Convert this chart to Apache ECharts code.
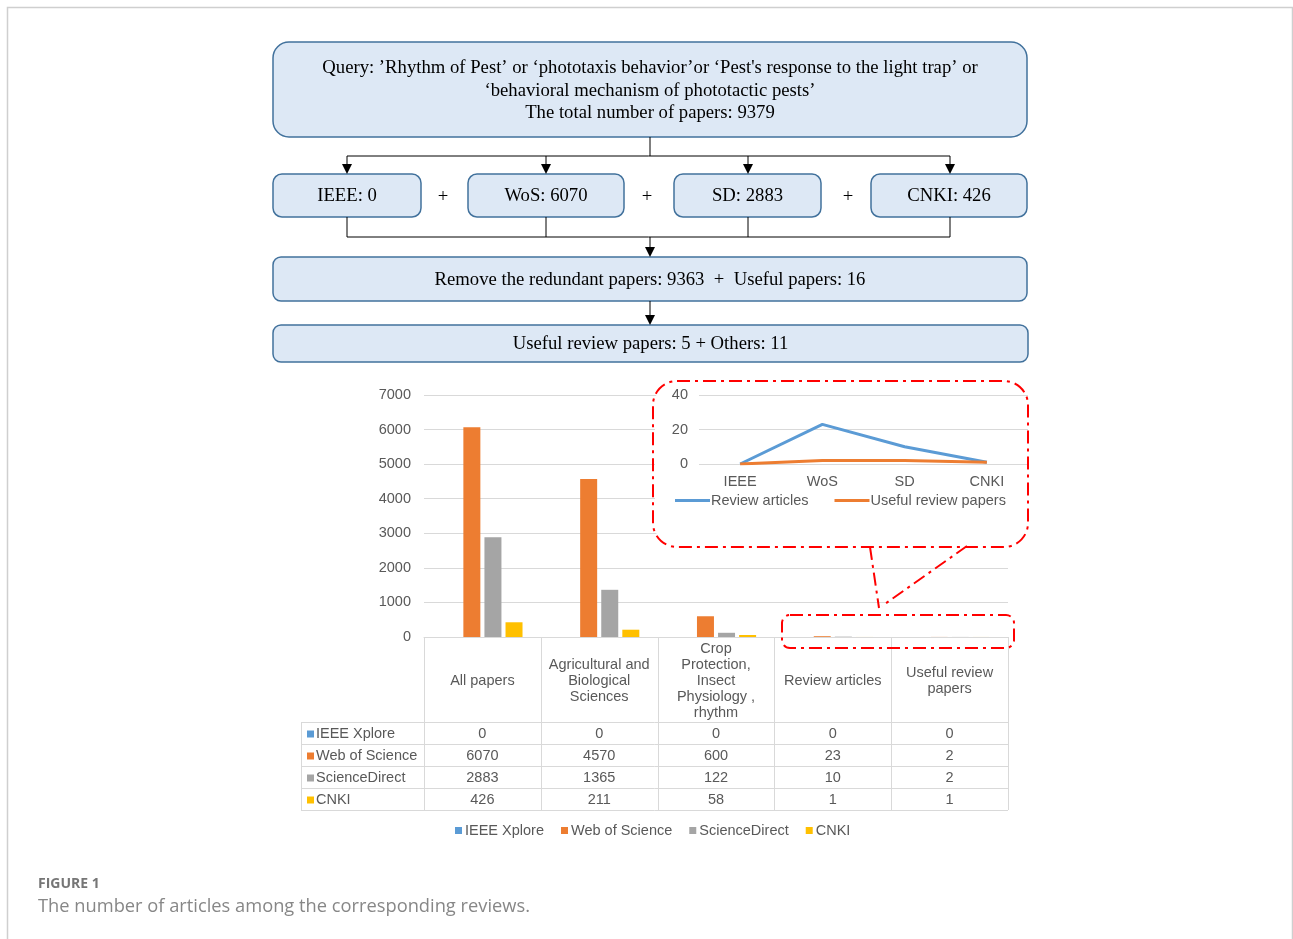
<!DOCTYPE html>
<html>
<head>
<meta charset="utf-8">
<script src="https://cdn.jsdelivr.net/npm/echarts@6/dist/echarts.min.js"></script>
<style>
  html, body { margin: 0; padding: 0; background: #ffffff; }
  #chart { width: 1293px; height: 939px; }
</style>
</head>
<body>
<div id="chart"></div>
<script>
// ---- data ----
const categories = [
  'All papers',
  'Agricultural and\nBiological\nSciences',
  'Crop\nProtection,\nInsect\nPhysiology ,\nrhythm',
  'Review articles',
  'Useful review\npapers'
];
const sources = ['IEEE Xplore', 'Web of Science', 'ScienceDirect', 'CNKI'];
const ieeeValues = [0, 0, 0, 0, 0];
const wosValues = [6070, 4570, 600, 23, 2];
const sdValues = [2883, 1365, 122, 10, 2];
const cnkiValues = [426, 211, 58, 1, 1];
const sourceValues = [ieeeValues, wosValues, sdValues, cnkiValues];
const yTicks = { min: 0, max: 7000, interval: 1000 };

// inset: review counts per database (taken from the table columns)
const insetCategories = ['IEEE', 'WoS', 'SD', 'CNKI'];
const insetSeriesNames = ['Review articles', 'Useful review papers'];
const reviewArticles = sourceValues.map(v => v[3]);
const usefulReviewPapers = sourceValues.map(v => v[4]);
const insetTicks = { min: 0, max: 40, interval: 20 };

// flowchart numbers
const flowSources = ['IEEE', 'WoS', 'SD', 'CNKI'];
const flowCounts = sourceValues.map(v => v[0]);
const redundantPapers = 9363;
const usefulPapers = 16;
const usefulReviewTotal = usefulReviewPapers.reduce((a, b) => a + b, 0);

// ---- style ----
const COLORS = ['#5b9bd5', '#ed7d31', '#a5a5a5', '#ffc000'];
const SANS = '"Liberation Sans", Arial, sans-serif';
const SERIF = '"Liberation Serif", "Times New Roman", serif';
const FS = 14.5;
const TXT = '#595959';
const GRID_LINE = '#d9d9d9';
const BOX_FILL = '#dde8f5';
const BOX_STROKE = '#41719c';
const FLOW_FONT = '18.7px ' + SERIF;

const chart = echarts.init(document.getElementById('chart'), null, { renderer: 'canvas' });

const plain = v => String(v);

const baseOption = {
  animation: false,
  backgroundColor: '#ffffff',
  textStyle: { fontFamily: SANS },
  grid: [
    { left: 424, top: 395, width: 584, height: 242 },
    { left: 699, top: 395, width: 329, height: 69 }
  ],
  xAxis: [
    {
      gridIndex: 0, type: 'category', data: categories,
      axisLine: { lineStyle: { color: GRID_LINE, width: 1 } },
      axisTick: { show: false },
      axisLabel: {
        interval: 0, margin: 44, verticalAlign: 'middle', lineHeight: 16,
        color: TXT, fontSize: FS, fontFamily: SANS
      }
    },
    {
      gridIndex: 1, type: 'category', data: insetCategories, z: 3,
      axisLine: { show: false }, axisTick: { show: false },
      axisLabel: { margin: 10, color: TXT, fontSize: FS, fontFamily: SANS }
    }
  ],
  yAxis: [
    {
      gridIndex: 0, type: 'value', min: yTicks.min, max: yTicks.max, interval: yTicks.interval,
      axisLine: { show: false }, axisTick: { show: false },
      axisLabel: { margin: 13, color: TXT, fontSize: FS, fontFamily: SANS, formatter: plain },
      splitLine: { lineStyle: { color: GRID_LINE, width: 1 } }
    },
    {
      gridIndex: 1, type: 'value', min: insetTicks.min, max: insetTicks.max, interval: insetTicks.interval, z: 3,
      axisLine: { show: false }, axisTick: { show: false },
      axisLabel: { margin: 11, color: TXT, fontSize: FS, fontFamily: SANS, formatter: plain },
      splitLine: { lineStyle: { color: GRID_LINE, width: 1 } }
    }
  ],
  legend: [
    {
      data: sources, left: 455, top: 823, padding: 0, icon: 'rect', itemWidth: 7, itemHeight: 7, itemGap: 17,
      textStyle: { color: TXT, fontSize: FS, fontFamily: SANS, padding: [0, 0, 0, -2] },
      selectedMode: false
    },
    {
      data: insetSeriesNames, left: 675, top: 493, padding: 0, icon: 'rect', itemWidth: 35, itemHeight: 3, itemGap: 26, z: 6,
      textStyle: { color: TXT, fontSize: FS, fontFamily: SANS, padding: [0, 0, 0, -4] },
      selectedMode: false
    }
  ],
  series: sources.map((name, i) => ({
    name, type: 'bar', xAxisIndex: 0, yAxisIndex: 0,
    data: sourceValues[i], barWidth: 17, barGap: '24%',
    itemStyle: { color: COLORS[i] }
  })).concat([
    {
      name: insetSeriesNames[0], type: 'line', xAxisIndex: 1, yAxisIndex: 1, z: 5,
      data: reviewArticles, symbol: 'none',
      lineStyle: { color: COLORS[0], width: 3 }, itemStyle: { color: COLORS[0] }
    },
    {
      name: insetSeriesNames[1], type: 'line', xAxisIndex: 1, yAxisIndex: 1, z: 5,
      data: usefulReviewPapers, symbol: 'none',
      lineStyle: { color: COLORS[1], width: 3 }, itemStyle: { color: COLORS[1] }
    }
  ])
};

chart.setOption(baseOption);

// ---- decorations: flowchart, data table, callout, caption ----
function text(x, y, str, font, fill, align, lineHeight) {
  const style = {
    text: str, x, y, font, fill,
    align: align || 'center', textAlign: align || 'center',
    verticalAlign: 'middle', textVerticalAlign: 'middle'
  };
  if (lineHeight) style.lineHeight = lineHeight;
  return { type: 'text', z: 10, style };
}
function line(x1, y1, x2, y2, stroke, width, dash, z) {
  return {
    type: 'line', z: z || 10,
    shape: { x1, y1, x2, y2 },
    style: { stroke, lineWidth: width || 1, lineDash: dash || null }
  };
}
function box(x, y, w, h, r, label, dy) {
  return [
    {
      type: 'rect', z: 9,
      shape: { x, y, width: w, height: h, r },
      style: { fill: BOX_FILL, stroke: BOX_STROKE, lineWidth: 1.5 }
    },
    text(x + w / 2, y + h / 2 + (dy || 0), label, FLOW_FONT, '#000000', 'center', 22.5)
  ];
}
function arrow(x, y1, y2) {
  return [
    line(x, y1, x, y2 - 8, '#000000', 1),
    { type: 'polygon', z: 10, shape: { points: [[x - 5, y2 - 10], [x + 5, y2 - 10], [x, y2]] }, style: { fill: '#000000' } }
  ];
}

const g = [];

// page frame
g.push({ type: 'rect', z: 0, shape: { x: 7.5, y: 7.5, width: 1285, height: 1000 },
  style: { fill: 'none', stroke: '#cfcfcf', lineWidth: 1.5 } });

// flowchart
const total = flowCounts.reduce((a, b) => a + b, 0);
g.push(...box(273, 42, 754, 95, 16,
  'Query: \u2019Rhythm of Pest\u2019 or \u2018phototaxis behavior\u2019or \u2018Pest\'s response to the light trap\u2019 or\n' +
  '\u2018behavioral mechanism of phototactic pests\u2019\n' +
  'The total number of papers: ' + total, 1.5));

const srcBoxes = [[273, 148], [468, 156], [674, 147], [871, 156]];
const srcCenters = [347, 546, 748, 950];
g.push(line(650, 137, 650, 156, '#000', 1));
g.push(line(srcCenters[0], 156, srcCenters[3], 156, '#000', 1));
srcBoxes.forEach((b, i) => {
  g.push(...arrow(srcCenters[i], 156, 174));
  g.push(...box(b[0], 174, b[1], 43, 9, flowSources[i] + ': ' + flowCounts[i], 1));
  g.push(line(srcCenters[i], 217, srcCenters[i], 237, '#000', 1));
});
[443, 647, 848].forEach(x => g.push(text(x, 197, '+', FLOW_FONT, '#000')));
g.push(line(srcCenters[0], 237, srcCenters[3], 237, '#000', 1));
g.push(...arrow(650, 237, 257));
g.push(...box(273, 257, 754, 44, 8,
  'Remove the redundant papers: ' + redundantPapers + '  +  Useful papers: ' + usefulPapers, 1));
g.push(...arrow(650, 301, 325));
g.push(...box(273, 325, 755, 37, 8,
  'Useful review papers: ' + usefulReviewTotal + ' + Others: ' + (usefulPapers - usefulReviewTotal), 1));

// data table under the category axis
const xs = categories.map((c, i) => chart.convertToPixel({ xAxisIndex: 0 }, i));
const band = xs[1] - xs[0];
const y0 = chart.convertToPixel({ yAxisIndex: 0 }, 0);
const headerH = 85, rowH = 22, labelLeft = 301;
const tableLeft = xs[0] - band / 2, tableRight = xs[xs.length - 1] + band / 2;
const tableBottom = y0 + headerH + rowH * sources.length;
for (let i = 0; i <= categories.length; i++) {
  const x = Math.round(tableLeft + band * i) + 0.5;
  g.push(line(x, y0, x, tableBottom, GRID_LINE, 1, null, 3));
}
g.push(line(labelLeft + 0.5, y0 + headerH, labelLeft + 0.5, tableBottom, GRID_LINE, 1, null, 3));
for (let r = 0; r <= sources.length; r++) {
  const y = Math.round(y0 + headerH + rowH * r) + 0.5;
  g.push(line(labelLeft, y, tableRight, y, GRID_LINE, 1, null, 3));
}
sources.forEach((name, r) => {
  const cy = y0 + headerH + rowH * r + rowH / 2 + 1;
  g.push({ type: 'rect', z: 10, shape: { x: 307, y: cy - 3.5, width: 7, height: 7 }, style: { fill: COLORS[r] } });
  g.push(text(316, cy, name, FS + 'px ' + SANS, TXT, 'left'));
  sourceValues[r].forEach((v, c) => g.push(text(xs[c], cy, String(v), FS + 'px ' + SANS, TXT)));
});

// inset panel background and dash-dot callout
const RED = '#ff0000';
const DASH = [13, 5, 3, 5];
g.push({ type: 'rect', z: 1, shape: { x: 655, y: 382, width: 371, height: 164, r: 20 }, style: { fill: '#ffffff' } });
g.push({ type: 'rect', z: 8, shape: { x: 653, y: 381, width: 375, height: 166, r: 24 },
  style: { fill: 'none', stroke: RED, lineWidth: 2, lineDash: DASH } });
g.push({ type: 'rect', z: 8, shape: { x: 782, y: 615, width: 232, height: 33, r: 8 },
  style: { fill: 'none', stroke: RED, lineWidth: 2, lineDash: DASH } });
g.push(line(870, 547, 879, 608, RED, 2, DASH, 8));
g.push(line(967, 546, 882, 606, RED, 2, DASH, 8));

// caption
g.push(text(38, 884, 'FIGURE 1', 'bold 14px "Open Sans", sans-serif', '#767676', 'left'));
g.push(text(38, 907, 'The number of articles among the corresponding reviews.', '18.3px "Open Sans", sans-serif', '#878787', 'left'));

chart.setOption({ graphic: { elements: g } });
</script>
</body>
</html>
